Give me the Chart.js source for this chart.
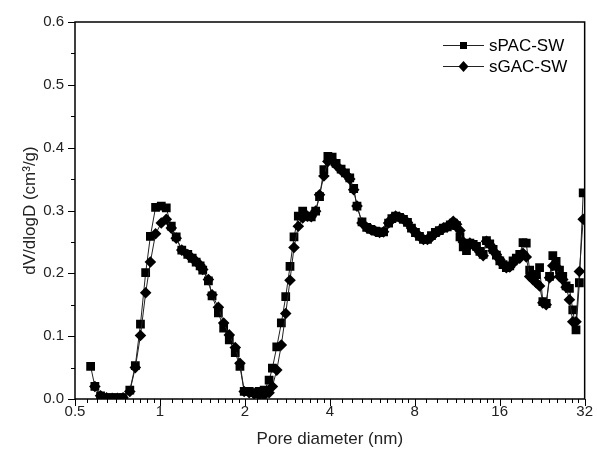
<!DOCTYPE html>
<html>
<head>
<meta charset="utf-8">
<script src="https://cdn.jsdelivr.net/npm/chart.js@4.4.0/dist/chart.umd.min.js"></script>
<style>
  html, body { margin: 0; padding: 0; background: #fff; }
</style>
</head>
<body>
<canvas id="grafico" width="597" height="458"></canvas>
<script>
// Diametro de poro (nm)
const diametro = [
  0.568, 0.588, 0.616, 0.647, 0.677, 0.707, 0.740, 0.782, 0.818, 0.853,
  0.890, 0.925, 0.965, 1.011, 1.053, 1.097, 1.142, 1.195, 1.255, 1.301,
  1.344, 1.388, 1.418, 1.485, 1.530, 1.611, 1.682, 1.761, 1.849, 1.921,
  1.989, 2.072, 2.157, 2.247, 2.341, 2.437, 2.503, 2.594, 2.693, 2.791,
  2.890, 2.986, 3.093, 3.205, 3.327, 3.437, 3.563, 3.678, 3.810, 3.937,
  4.076, 4.211, 4.386, 4.544, 4.707, 4.860, 4.993, 5.201, 5.404, 5.583,
  5.800, 6.005, 6.203, 6.461, 6.636, 6.840, 7.063, 7.296, 7.538, 7.787,
  8.045, 8.311, 8.586, 8.870, 9.164, 9.463, 9.776, 10.10, 10.43, 10.69,
  10.95, 11.25, 11.57, 11.88, 12.20, 12.54, 12.89, 13.24, 13.61, 13.98,
  14.36, 14.75, 15.16, 15.57, 16.01, 16.44, 16.89, 17.37, 17.84, 18.32,
  18.84, 19.35, 19.87, 20.43, 20.98, 21.55, 22.15, 22.75, 23.38, 24.03,
  24.68, 25.35, 26.06, 26.76, 27.50, 28.26, 29.04, 29.82, 30.65, 31.62
];

const sPAC = [
  0.052, 0.020, 0.005, 0.002, 0.002, 0.002, 0.002, 0.014, 0.053, 0.119,
  0.201, 0.259, 0.305, 0.307, 0.304, 0.275, 0.258, 0.237, 0.230, 0.224,
  0.218, 0.212, 0.205, 0.188, 0.164, 0.137, 0.113, 0.094, 0.074, 0.052,
  0.012, 0.012, 0.010, 0.012, 0.014, 0.030, 0.049, 0.083, 0.121, 0.163,
  0.211, 0.258, 0.291, 0.299, 0.291, 0.290, 0.299, 0.322, 0.365, 0.386,
  0.385, 0.375, 0.366, 0.360, 0.352, 0.335, 0.307, 0.282, 0.273, 0.270,
  0.267, 0.265, 0.266, 0.280, 0.287, 0.291, 0.289, 0.286, 0.281, 0.272,
  0.265, 0.259, 0.254, 0.254, 0.260, 0.265, 0.268, 0.272, 0.274, 0.277,
  0.280, 0.276, 0.258, 0.242, 0.236, 0.248, 0.246, 0.243, 0.235, 0.230,
  0.252, 0.247, 0.238, 0.229, 0.220, 0.214, 0.209, 0.212, 0.220, 0.224,
  0.230, 0.249, 0.248, 0.205, 0.198, 0.198, 0.209, 0.155, 0.152, 0.195,
  0.228, 0.219, 0.205, 0.195, 0.180, 0.176, 0.142, 0.110, 0.185, 0.328
];

const sGAC = [
  null, 0.020, 0.005, 0.002, 0.001, 0.001, 0.002, 0.012, 0.050, 0.101,
  0.169, 0.218, 0.263, 0.280, 0.286, 0.272, 0.256, 0.237, 0.230, 0.224,
  0.219, 0.213, 0.206, 0.190, 0.166, 0.146, 0.121, 0.102, 0.082, 0.057,
  0.012, 0.010, 0.008, 0.006, 0.006, 0.010, 0.020, 0.046, 0.086, 0.136,
  0.189, 0.241, 0.275, 0.288, 0.291, 0.290, 0.299, 0.325, 0.355, 0.378,
  0.380, 0.372, 0.364, 0.358, 0.350, 0.333, 0.307, 0.280, 0.273, 0.270,
  0.267, 0.265, 0.266, 0.280, 0.287, 0.291, 0.289, 0.286, 0.281, 0.272,
  0.265, 0.259, 0.254, 0.254, 0.258, 0.264, 0.268, 0.272, 0.274, 0.277,
  0.283, 0.278, 0.268, 0.250, 0.240, 0.248, 0.246, 0.240, 0.234, 0.228,
  0.251, 0.246, 0.236, 0.230, 0.222, 0.214, 0.209, 0.210, 0.216, 0.222,
  0.224, 0.232, 0.226, 0.195, 0.190, 0.185, 0.180, 0.153, 0.150, 0.193,
  0.212, 0.211, 0.195, 0.190, 0.178, 0.158, 0.123, 0.123, 0.203, 0.286
];

const ticksX = [0.5, 1, 2, 4, 8, 16, 32];
const ticksY = [0, 0.1, 0.2, 0.3, 0.4, 0.5, 0.6];

const fuente = '"Liberation Sans", Arial, sans-serif';

// marco + marcas de los ejes (mayores y menores, hacia afuera)
const marcoPlugin = {
  id: 'marco',
  afterDraw(chart) {
    const ctx = chart.ctx;
    const a = chart.chartArea;
    const sx = chart.scales.x;
    const sy = chart.scales.y;
    ctx.save();
    ctx.strokeStyle = '#000';
    ctx.lineWidth = 1.5;
    ctx.strokeRect(a.left, a.top, a.right - a.left, a.bottom - a.top);

    ctx.lineWidth = 1;
    ctx.beginPath();
    ticksX.forEach(function(v, i) {
      const px = Math.round(sx.getPixelForValue(v)) + 0.5;
      ctx.moveTo(px, a.bottom);
      ctx.lineTo(px, a.bottom + 7);
      if (i < ticksX.length - 1) {
        for (let k = 1; k < 10; k++) {
          const m = Math.round(sx.getPixelForValue(v + v * k / 10)) + 0.5;
          ctx.moveTo(m, a.bottom);
          ctx.lineTo(m, a.bottom + 4);
        }
      }
    });
    ticksY.forEach(function(v, i) {
      const py = Math.round(sy.getPixelForValue(v)) + 0.5;
      ctx.moveTo(a.left, py);
      ctx.lineTo(a.left - 7, py);
      if (i < ticksY.length - 1) {
        const m = Math.round(sy.getPixelForValue(v + 0.05)) + 0.5;
        ctx.moveTo(a.left, m);
        ctx.lineTo(a.left - 4, m);
      }
    });
    ctx.stroke();
    ctx.restore();
  }
};

// leyenda dentro del area del grafico
const leyendaPlugin = {
  id: 'leyenda',
  afterDraw(chart) {
    const ctx = chart.ctx;
    const filas = [
      { texto: 'sPAC-SW', forma: 'rect', y: 45 },
      { texto: 'sGAC-SW', forma: 'rectRot', y: 66 }
    ];
    ctx.save();
    filas.forEach(function(f) {
      ctx.strokeStyle = '#222';
      ctx.lineWidth = 1;
      ctx.beginPath();
      ctx.moveTo(443, f.y + 0.5);
      ctx.lineTo(484, f.y + 0.5);
      ctx.stroke();
      ctx.fillStyle = '#000';
      ctx.beginPath();
      if (f.forma === 'rect') {
        ctx.rect(460, f.y - 3, 7, 7);
      } else {
        ctx.moveTo(463.5, f.y - 5);
        ctx.lineTo(468.5, f.y + 0.5);
        ctx.lineTo(463.5, f.y + 6);
        ctx.lineTo(458.5, f.y + 0.5);
        ctx.closePath();
      }
      ctx.fill();
      ctx.font = '17px ' + fuente;
      ctx.textBaseline = 'middle';
      ctx.textAlign = 'left';
      ctx.fillText(f.texto, 489, f.y + 1);
    });
    ctx.restore();
  }
};

const ctx = document.getElementById('grafico').getContext('2d');
new Chart(ctx, {
  type: 'line',
  data: {
    datasets: [
      {
        label: 'sPAC-SW',
        data: diametro.map((d, i) => ({ x: d, y: sPAC[i] })),
        borderColor: '#222',
        borderWidth: 1,
        pointStyle: 'rect',
        pointRadius: 6.2,
        pointBackgroundColor: '#000',
        pointBorderColor: '#000',
        pointBorderWidth: 0,
        order: 1
      },
      {
        label: 'sGAC-SW',
        data: diametro.map((d, i) => ({ x: d, y: sGAC[i] })),
        borderColor: '#222',
        borderWidth: 1,
        pointStyle: 'rectRot',
        pointRadius: 5.8,
        pointBackgroundColor: '#000',
        pointBorderColor: '#000',
        pointBorderWidth: 0,
        spanGaps: true,
        order: 0
      }
    ]
  },
  options: {
    responsive: false,
    animation: false,
    devicePixelRatio: 1,
    layout: { padding: { top: 22, right: 10, left: 0, bottom: 0 } },
    plugins: {
      legend: { display: false },
      tooltip: { enabled: false }
    },
    scales: {
      x: {
        type: 'logarithmic',
        min: 0.5,
        max: 32,
        afterBuildTicks: function(scale) {
          scale.ticks = ticksX.map(v => ({ value: v }));
        },
        afterFit: function(scale) { scale.height = 59; },
        grid: { display: false, drawTicks: false },
        border: { display: false },
        ticks: {
          padding: 4,
          color: '#222',
          font: { family: fuente, size: 15 },
          maxRotation: 0,
          autoSkip: false,
          callback: function(v) { return String(v); }
        },
        title: {
          display: true,
          text: 'Pore diameter (nm)',
          color: '#222',
          font: { family: fuente, size: 17 },
          padding: { top: 0, bottom: 8 }
        }
      },
      y: {
        min: 0,
        max: 0.6,
        afterBuildTicks: function(scale) {
          scale.ticks = ticksY.map(v => ({ value: v }));
        },
        afterFit: function(scale) { scale.width = 75; },
        grid: { display: false, drawTicks: false },
        border: { display: false },
        ticks: {
          padding: 11,
          color: '#222',
          font: { family: fuente, size: 15 },
          callback: function(v) { return v.toFixed(1); }
        },
        title: {
          display: true,
          text: 'dV/dlogD (cm³/g)',
          color: '#222',
          font: { family: fuente, size: 17 },
          padding: { top: 20, bottom: 0 }
        }
      }
    }
  },
  plugins: [marcoPlugin, leyendaPlugin]
});
</script>
</body>
</html>
